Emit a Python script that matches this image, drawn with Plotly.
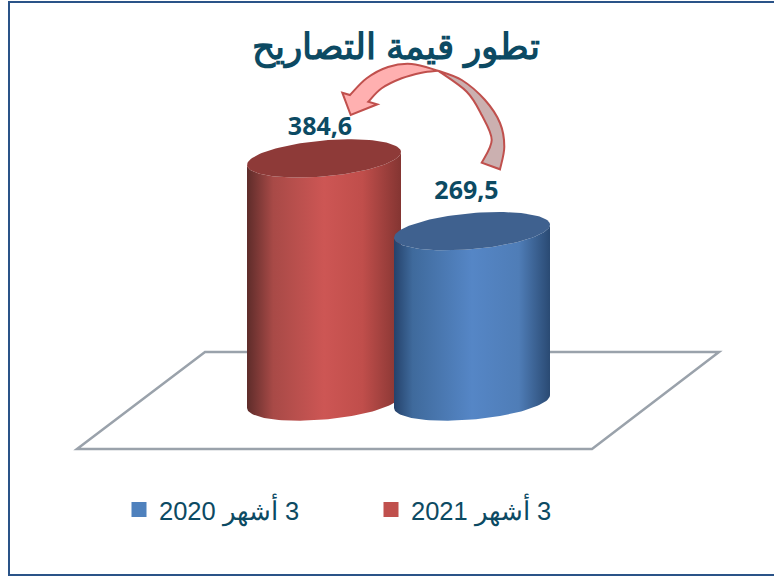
import math
import plotly.graph_objects as go

TITLE = "تطور قيمة التصاريح"
periods = ["\u200f3 أشهر 2020", "\u200f3 أشهر 2021"]
values = [269.5, 384.6]
value_labels = ["269,5", "384,6"]
top_colors = ["#3f618f", "#8e3a38"]
legend_colors = ["#4f81bd", "#c0504d"]
scales = [
    [[0, "#25426b"], [0.12, "#3f6a9c"], [0.5, "#5586c6"], [0.8, "#4f7db7"], [1, "#2a4a73"]],
    [[0, "#5e2c2a"], [0.17, "#a84a47"], [0.5, "#cd5654"], [0.75, "#c04e4b"], [1, "#843532"]],
]

W, H = 774, 577
BASE_PX = 401.5
PX_PER_UNIT = 0.632
CENTERS = [472, 324]
RX = [78, 77]
RY_PX = 18.0
SKEW_PX = -6.5
LABEL_DX = [-5.5, -4]
LABEL_GAP_PX = [19, 11]
TEXT = "#0c4a63"


def px_y(px):
    return (BASE_PX - px) / PX_PER_UNIT


def nx(x):
    return x / W


def ny(y):
    return 1 - y / H


def smooth(points):
    """Catmull-Rom through page points, returned as SVG cubic segments in paper units."""
    out = []
    pts = [points[0]] + points + [points[-1]]
    for i in range(1, len(pts) - 2):
        p0, p1, p2, p3 = pts[i - 1], pts[i], pts[i + 1], pts[i + 2]
        c1 = (p1[0] + (p2[0] - p0[0]) / 6, p1[1] + (p2[1] - p0[1]) / 6)
        c2 = (p2[0] - (p3[0] - p1[0]) / 6, p2[1] - (p3[1] - p1[1]) / 6)
        out.append(f"C{nx(c1[0])},{ny(c1[1])} {nx(c2[0])},{ny(c2[1])} {nx(p2[0])},{ny(p2[1])}")
    return " ".join(out)


def m(p):
    return f"M{nx(p[0])},{ny(p[1])}"


def l(p):
    return f"L{nx(p[0])},{ny(p[1])}"


def arc(cx, base, rx, t0, t1, n=60):
    xs, ys = [], []
    for i in range(n + 1):
        t = t0 + (t1 - t0) * i / n
        xs.append(cx + rx * math.cos(t))
        ys.append(base + (RY_PX * math.sin(t) + SKEW_PX * math.cos(t)) / PX_PER_UNIT * -1)
    return xs, ys


fig = go.Figure()

for i in [1, 0]:
    cx, rx, v = CENTERS[i], RX[i], values[i]
    bx, by = arc(cx, 0, rx, math.pi, 0)
    tx, ty = arc(cx, v, rx, 0, math.pi)
    fig.add_trace(go.Scatter(
        x=bx + tx, y=by + ty, mode="lines", fill="toself",
        line=dict(width=0), showlegend=False, hoverinfo="skip",
        fillgradient=dict(type="horizontal", colorscale=scales[i]),
    ))
    ex, ey = arc(cx, v, rx, 0, 2 * math.pi, 120)
    fig.add_trace(go.Scatter(
        x=ex, y=ey, mode="lines", fill="toself", fillcolor=top_colors[i],
        line=dict(width=0), showlegend=False, hoverinfo="skip",
    ))

fig.add_trace(go.Scatter(
    x=[CENTERS[i] + LABEL_DX[i] for i in range(2)],
    y=[values[i] + (LABEL_GAP_PX[i] + 19) / PX_PER_UNIT for i in range(2)],
    mode="text", text=value_labels, textposition="middle center",
    textfont=dict(family="Noto Sans", size=25, color=TEXT, weight="bold"),
    showlegend=False, hoverinfo="skip",
))

for i in range(2):
    fig.add_trace(go.Scatter(
        x=[None], y=[None], mode="markers", name=periods[i],
        marker=dict(symbol="square", size=15, color=legend_colors[i]),
    ))

floor = [(205, 352), (719, 352), (592, 449), (77, 449)]
floor_path = m(floor[0]) + " " + " ".join(l(p) for p in floor[1:]) + " Z"

crease = (438, 70.7)
end_outer = (500, 169.3)
end_inner = (481.7, 162.7)
dark_outer = [crease, (461.7, 80), (485, 100), (500, 123), (504.3, 146.7), end_outer]
dark_inner = [end_inner, (491.7, 140), (481.7, 115), (466.7, 91.7), crease]
dark_path = m(crease) + " " + smooth(dark_outer) + " " + l(end_inner) + " " + smooth(dark_inner) + " Z"

pink_outer = [(350, 95), (366.7, 78.3), (388, 67), (411.7, 64), crease]
pink_inner = [crease, (421.7, 72.7), (401.7, 78.3), (381.7, 88.3), (368.3, 101.7)]
pink_path = (m((342.3, 92.7)) + " " + l((350, 95)) + " " + smooth(pink_outer) + " " + smooth(pink_inner)
             + " " + l((377.3, 104.3)) + " " + l((350.7, 115)) + " Z")

line_col = "#2a5388"
shapes = [
    dict(type="path", path=floor_path, xref="paper", yref="paper", layer="below",
         line=dict(color="#9aa2ab", width=2.5), fillcolor="#ffffff"),
    dict(type="path", path=dark_path, xref="paper", yref="paper",
         line=dict(color="#c0504d", width=2), fillcolor="#cbb0b0"),
    dict(type="path", path=pink_path, xref="paper", yref="paper",
         line=dict(color="#c0504d", width=2), fillcolor="#ffb0b0"),
    dict(type="line", xref="paper", yref="paper", x0=nx(9), x1=nx(9), y0=ny(2), y1=ny(575),
         line=dict(color=line_col, width=2)),
    dict(type="line", xref="paper", yref="paper", x0=nx(8), x1=nx(774), y0=ny(2), y1=ny(2),
         line=dict(color=line_col, width=2)),
    dict(type="line", xref="paper", yref="paper", x0=nx(8), x1=nx(774), y0=ny(575), y1=ny(575),
         line=dict(color=line_col, width=2)),
]

fig.update_layout(
    width=W, height=H, margin=dict(l=0, r=0, t=0, b=0, pad=0),
    paper_bgcolor="#ffffff", plot_bgcolor="#ffffff",
    xaxis=dict(range=[0, W], visible=False, fixedrange=True),
    yaxis=dict(range=[px_y(H), px_y(0)], visible=False, fixedrange=True),
    shapes=shapes,
    annotations=[dict(
        text=TITLE, xref="paper", yref="paper", x=nx(396), y=ny(48), showarrow=False,
        xanchor="center", yanchor="middle",
        font=dict(family="Liberation Sans", size=35.5, color=TEXT, weight="bold"),
    )],
    legend=dict(
        orientation="h", xref="paper", yref="paper", x=nx(119), y=ny(510),
        xanchor="left", yanchor="middle", entrywidth=207, entrywidthmode="pixels",
        bgcolor="rgba(0,0,0,0)", font=dict(family="Liberation Sans", size=25.5, color=TEXT),
        itemclick=False, itemdoubleclick=False,
    ),
    showlegend=True,
)

fig.write_html("out.html", post_script="document.body.style.margin='0';",
               config={"displayModeBar": False})
